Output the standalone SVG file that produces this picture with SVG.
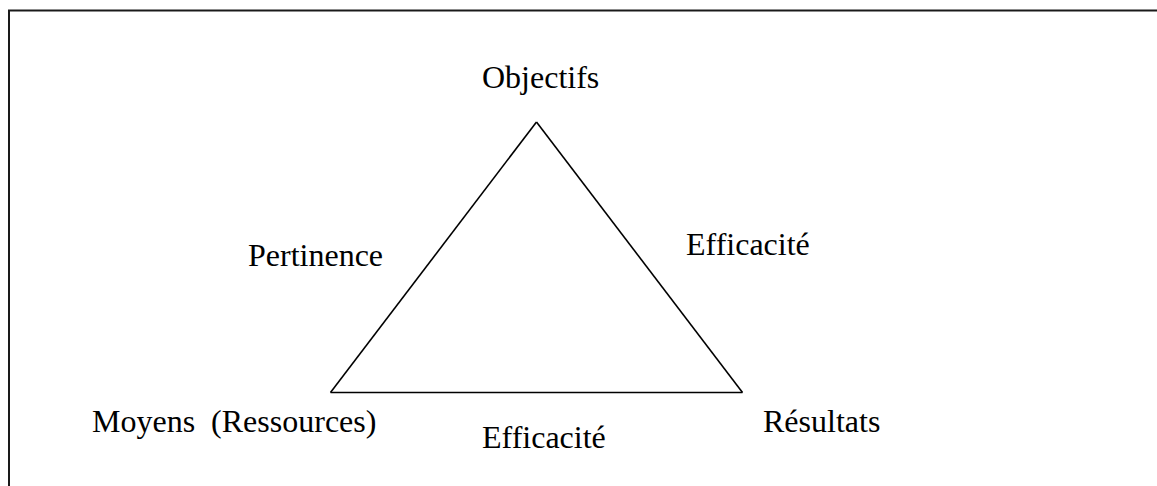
<svg xmlns="http://www.w3.org/2000/svg" width="1157" height="486" viewBox="0 0 1157 486">
  <style>
    .frame { fill: none; stroke: #1a1a1a; stroke-width: 2; }
    .edge { fill: none; stroke: #000; stroke-width: 1.6; stroke-linejoin: miter; }
    .label { font-family: "Liberation Serif", "Times New Roman", serif; font-size: 32px; fill: #000; white-space: pre; }
  </style>
  <rect width="1157" height="486" fill="#fff"/>
  <!-- outer frame, open to the right and bottom -->
  <path class="frame" d="M9,500 L9,10.5 L1170,10.5"/>

  <g id="connectors">
    <path id="edge-objectifs-resultats" class="edge" d="M536.5,122 L742.5,392.5"/>
    <path id="edge-resultats-moyens" class="edge" d="M742.5,392.5 L330.5,392.5"/>
    <path id="edge-moyens-objectifs" class="edge" d="M330.5,392.5 L536.5,122"/>
  </g>

  <g id="node-objectifs"><text class="label" x="482" y="88">Objectifs</text></g>
  <g id="node-moyens"><text class="label" x="92" y="432">Moyens  (Ressources)</text></g>
  <g id="node-resultats"><text class="label" x="763" y="432">Résultats</text></g>

  <g id="label-pertinence"><text class="label" x="248" y="266">Pertinence</text></g>
  <g id="label-efficacite-droite"><text class="label" x="686" y="255">Efficacité</text></g>
  <g id="label-efficacite-bas"><text class="label" x="482" y="448">Efficacité</text></g>
</svg>
